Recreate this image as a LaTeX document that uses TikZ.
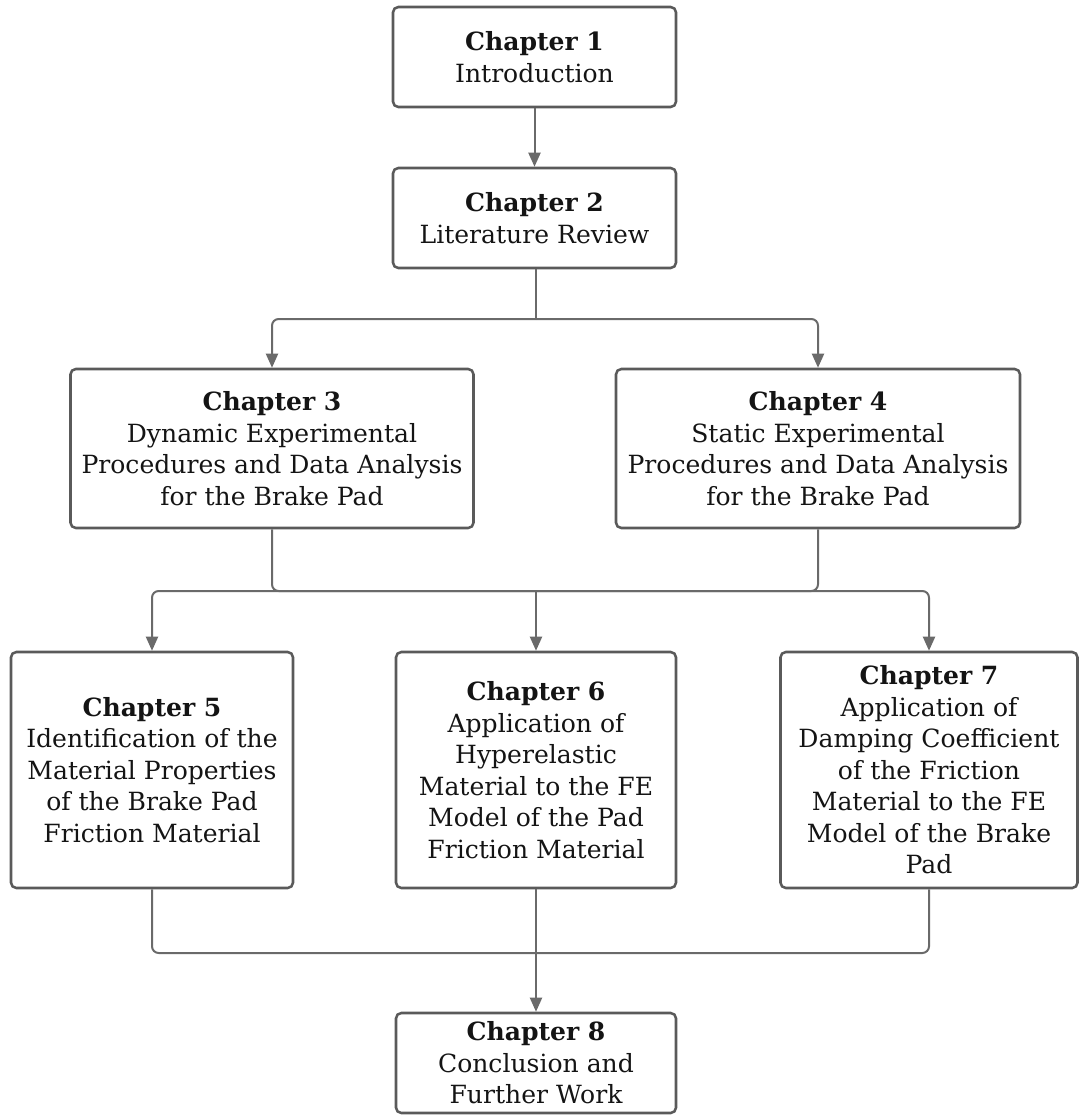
\documentclass[tikz,border=0pt]{standalone}
\usepackage{fontspec}
\setmainfont{DejaVu Serif}
\usetikzlibrary{arrows.meta}
\definecolor{boxline}{HTML}{5A5A5A}
\definecolor{linkline}{HTML}{6A6A6A}
\definecolor{txt}{HTML}{141414}
\begin{document}
\begin{tikzpicture}[x=0.75pt,y=-0.75pt,
  chapbox/.style={draw=boxline, line width=1.9pt, rounded corners=4pt,
    align=center, text=txt, inner sep=0pt,
    font=\fontsize{18.8}{23.6}\selectfont},
  link/.style={draw=linkline, line width=1.5pt, rounded corners=5pt},
  linkarrow/.style={link, -{Triangle[length=10.5pt,width=9pt]}}
]
\useasboundingbox (0,0) rectangle (1079,1117);

\node[chapbox, minimum width=283*0.75pt, minimum height=100*0.75pt] (c1) at (534.5,57)
  {\textbf{Chapter 1}\\Introduction};
\node[chapbox, minimum width=283*0.75pt, minimum height=100*0.75pt] (c2) at (534.5,218)
  {\textbf{Chapter 2}\\Literature Review};
\node[chapbox, minimum width=403*0.75pt, minimum height=159*0.75pt] (c3) at (272,448.5)
  {\textbf{Chapter 3}\\Dynamic Experimental\\Procedures and Data Analysis\\for the Brake Pad};
\node[chapbox, minimum width=404*0.75pt, minimum height=159*0.75pt] (c4) at (818,448.5)
  {\textbf{Chapter 4}\\Static Experimental\\Procedures and Data Analysis\\for the Brake Pad};
\node[chapbox, minimum width=282*0.75pt, minimum height=236*0.75pt] (c5) at (152,770)
  {\textbf{Chapter 5}\\Identification of the\\Material Properties\\of the Brake Pad\\Friction Material};
\node[chapbox, minimum width=280*0.75pt, minimum height=236*0.75pt] (c6) at (536,770)
  {\textbf{Chapter 6}\\Application of\\Hyperelastic\\Material to the FE\\Model of the Pad\\Friction Material};
\node[chapbox, minimum width=297*0.75pt, minimum height=236*0.75pt] (c7) at (929,770)
  {\textbf{Chapter 7}\\Application of\\Damping Coefficient\\of the Friction\\Material to the FE\\Model of the Brake\\Pad};
\node[chapbox, minimum width=280*0.75pt, minimum height=100*0.75pt] (c8) at (536,1063)
  {\textbf{Chapter 8}\\Conclusion and\\Further Work};

% junction points of the connectors
\coordinate (j2) at (536,319);
\coordinate (j3) at (536,591);
\coordinate (j4) at (536,953);

\draw[linkarrow] (c1) -- (c2);

\draw[link] (c2.south -| j2) -- (j2);
\draw[linkarrow] (j2) -| (c3.north);
\draw[linkarrow] (j2) -| (c4.north);

\draw[link] (c3.south) |- (j3) -| (c4.south);
\draw[linkarrow] (j3) -| (c5.north);
\draw[linkarrow] (j3) -| (c7.north);
\draw[linkarrow] (j3) -- (c6.north);

\draw[link] (c5.south) |- (j4) -| (c7.south);
\draw[linkarrow] (c6.south) -- (c8.north);
\end{tikzpicture}
\end{document}
